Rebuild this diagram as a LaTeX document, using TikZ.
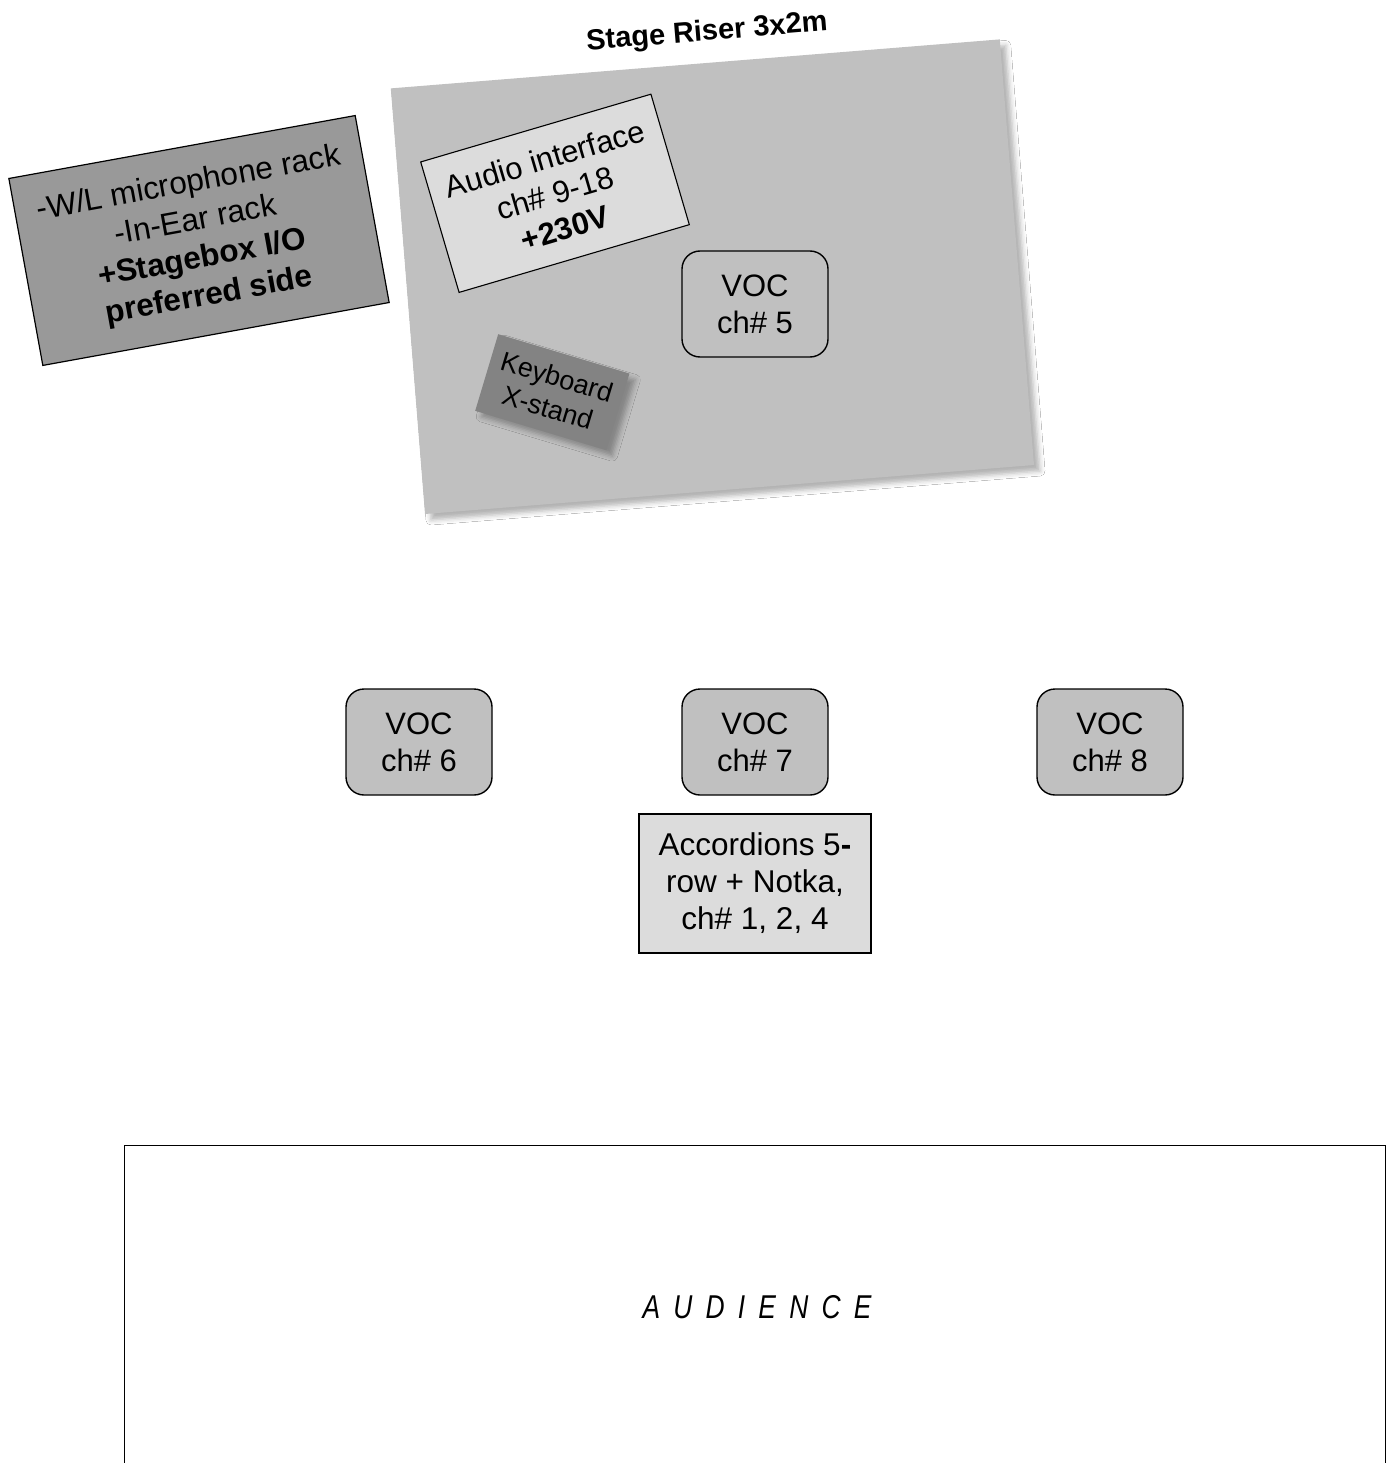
\documentclass[tikz,border=0pt]{standalone}
\usepackage{fontspec}
\setmainfont{Liberation Sans}
\usetikzlibrary{shadows.blur}
\definecolor{riserfill}{HTML}{C0C0C0}
\definecolor{rackfill}{HTML}{999999}
\definecolor{keyfill}{HTML}{838383}
\definecolor{lightfill}{HTML}{DCDCDC}
\tikzset{
  shd/.style={blur shadow={shadow xshift=6pt, shadow yshift=-6pt, shadow blur radius=5pt, shadow opacity=30}},
  riserbox/.style={fill=riserfill, draw=none, inner sep=0pt, shd},
  rackbox/.style={fill=rackfill, draw=black, line width=1.2pt, inner sep=0pt, align=center, font=\fontsize{31.5}{38}\selectfont},
  audiobox/.style={fill=lightfill, draw=black, line width=1.1pt, inner sep=0pt, align=center, font=\fontsize{31}{36}\selectfont},
  keybox/.style={fill=keyfill, draw=none, inner sep=0pt, align=center, font=\fontsize{27}{32}\selectfont, shd},
  vocbox/.style={fill=riserfill, draw=black, line width=1.4pt, rounded corners=18pt, minimum width=146pt, minimum height=106pt, inner sep=0pt, align=center, font=\fontsize{31}{37}\selectfont},
  accbox/.style={fill=lightfill, draw=black, line width=1.2pt, minimum width=232pt, minimum height=139pt, inner sep=0pt, align=center, font=\fontsize{31.5}{37}\selectfont},
  title/.style={font=\fontsize{29}{34}\selectfont\bfseries, inner sep=0pt},
  audtext/.style={font=\fontsize{33}{38}\selectfont\itshape\addfontfeature{LetterSpace=50}, inner sep=0pt, xscale=0.8}
}
\begin{document}
\begin{tikzpicture}[x=1pt, y=-1pt]
\useasboundingbox[fill=white] (0,0) rectangle (1386,1463);

% stage riser
\node[riserbox, rotate=4.6, minimum width=611pt, minimum height=427pt] (riser) at (712.4,276.7) {};
\node[title, rotate=4.7] (risertitle) at (707,33) {Stage Riser 3x2m};

% rack box (left)
\node[rackbox, rotate=10.3, minimum width=352pt, minimum height=190pt] (rack) at (199,240.5)
  {-W/L microphone rack\\-In-Ear rack\\\textbf{+Stagebox I/O}\\\textbf{preferred side}};

% audio interface
\node[audiobox, rotate=16.4, minimum width=240pt, minimum height=136pt] (audio) at (555,193.3)
  {Audio interface\\ch\# 9-18\\\textbf{+230V}};

% keyboard
\node[keybox, rotate=-16.7, minimum width=137pt, minimum height=80pt] (keyboard) at (552.3,392.2)
  {Keyboard\\X-stand};

% vocals
\node[vocbox] (voc5) at (755,304) {VOC\\ch\# 5};
\node[vocbox] (voc6) at (419,742) {VOC\\ch\# 6};
\node[vocbox] (voc7) at (755,742) {VOC\\ch\# 7};
\node[vocbox] (voc8) at (1110,742) {VOC\\ch\# 8};

% accordions
\node[accbox] (acc) at (755,883.5) {Accordions 5\textbf{-}\\row + Notka,\\ch\# 1, 2, 4};

% audience
\draw[line width=1.4pt] (124.5,1480) -- (124.5,1145.5) -- (1385.3,1145.5) -- (1385.3,1480);
\node[audtext] (aud) at (757,1307) {AUDIENCE};
\end{tikzpicture}
\end{document}
